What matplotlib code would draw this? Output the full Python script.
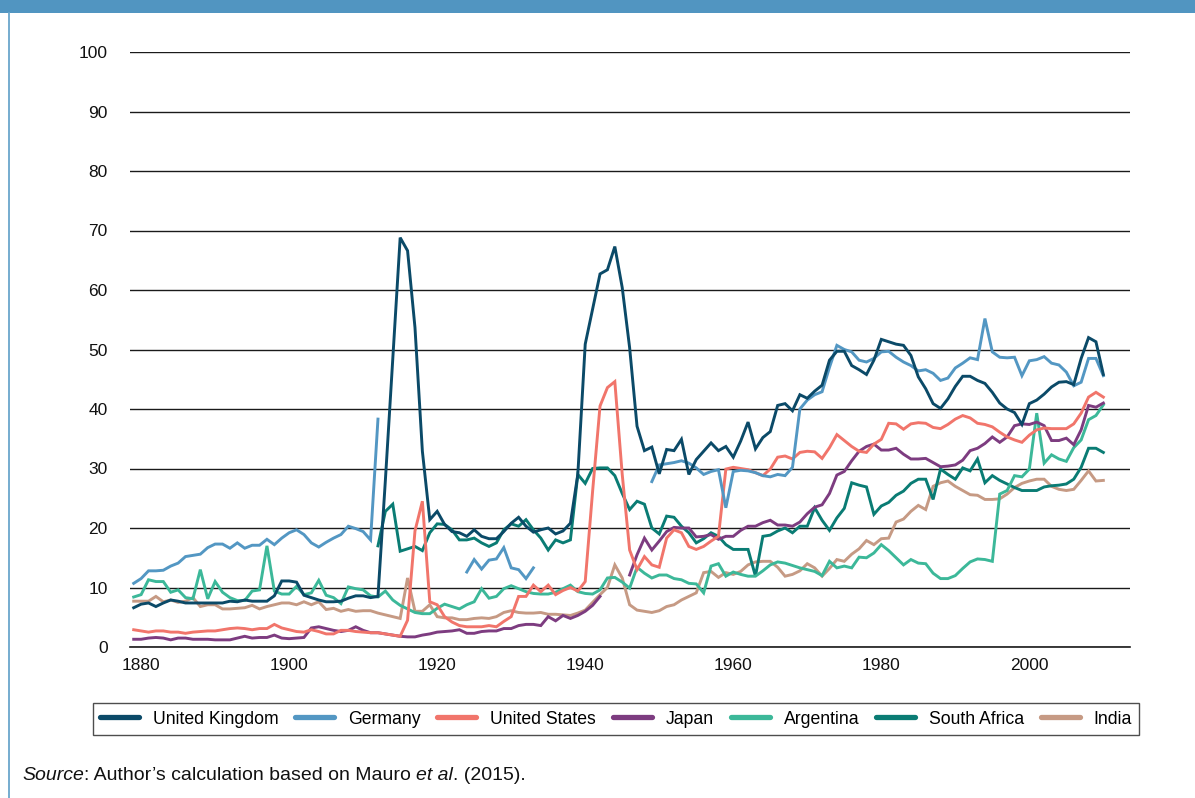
import matplotlib

matplotlib.use("Agg")
import matplotlib.pyplot as plt
import numpy as np
from matplotlib.lines import Line2D
from matplotlib.patches import Rectangle

nan = np.nan

# ---------------------------------------------------------------
# data: government expenditure, % of GDP, 1879-2010
# ---------------------------------------------------------------
years = np.arange(1879, 2011)

uk = [
    6.6,
    7.2, 7.4, 6.8, 7.4, 7.9, 7.7, 7.4, 7.4, 7.4, 7.4,
    7.4, 7.4, 7.7, 7.6, 7.9, 7.7, 7.7, 7.7, 8.6, 11.1,
    11.1, 10.9, 8.7, 8.3, 7.9, 7.6, 7.6, 7.7, 8.2, 8.6,
    8.6, 8.3, 8.5, 28.0, 48.5, 68.8, 66.6, 53.7, 32.9, 21.4,
    22.8, 20.6, 19.4, 19.2, 18.6, 19.7, 18.6, 18.2, 18.2, 19.4,
    20.8, 21.8, 20.3, 19.3, 19.7, 20.0, 19.0, 19.5, 20.8, 29.0,
    50.9, 56.8, 62.7, 63.4, 67.3, 60.4, 50.3, 37.1, 33.0, 33.6,
    29.1, 33.2, 33.0, 34.9, 29.0, 31.5, 32.9, 34.3, 33.0, 33.7,
    31.9, 34.6, 37.8, 33.3, 35.2, 36.2, 40.6, 40.9, 39.7, 42.4,
    41.8, 43.0, 44.0, 48.2, 49.7, 49.7, 47.3, 46.6, 45.8, 48.2,
    51.7, 51.3, 50.9, 50.7, 49.0, 45.4, 43.4, 40.9, 40.1, 41.7,
    43.8, 45.5, 45.5, 44.8, 44.3, 42.8, 41.0, 40.0, 39.4, 37.4,
    40.9, 41.5, 42.5, 43.7, 44.5, 44.6, 44.1, 48.5, 52.0, 51.3, 45.8,
]

germany = [
    10.7,
    11.5, 12.8, 12.8, 12.9, 13.6, 14.1, 15.2, 15.4, 15.6, 16.7,
    17.3, 17.3, 16.6, 17.5, 16.6, 17.1, 17.1, 18.1, 17.2, 18.3,
    19.2, 19.7, 18.9, 17.5, 16.8, 17.6, 18.3, 18.9, 20.3, 19.9,
    19.4, 18.0, 38.3, nan, nan, nan, nan, nan, nan, nan,
    nan, nan, nan, nan, 12.6, 14.7, 13.1, 14.6, 14.8, 16.7,
    13.3, 13.0, 11.5, 13.3, nan, nan, nan, nan, nan, nan,
    nan, nan, nan, nan, nan, nan, nan, nan, nan, 27.8,
    30.6, 30.8, 31.0, 31.3, 30.9, 30.1, 29.0, 29.5, 29.8, 23.4,
    29.5, 29.7, 29.6, 29.3, 28.8, 28.6, 29.0, 28.8, 30.2, 40.0,
    41.5, 42.4, 42.9, 47.0, 50.7, 50.0, 49.6, 48.2, 47.9, 48.5,
    49.6, 49.7, 48.7, 47.9, 47.3, 46.4, 46.6, 46.0, 44.8, 45.2,
    46.9, 47.7, 48.6, 48.3, 55.2, 49.6, 48.7, 48.6, 48.7, 45.6,
    48.1, 48.3, 48.8, 47.7, 47.4, 46.2, 43.9, 44.5, 48.5, 48.5, 45.6,
]

usa = [
    2.9,
    2.7, 2.5, 2.7, 2.7, 2.5, 2.5, 2.3, 2.5, 2.6, 2.7,
    2.7, 2.9, 3.1, 3.2, 3.1, 2.9, 3.1, 3.1, 3.8, 3.2,
    2.9, 2.6, 2.5, 2.9, 2.6, 2.2, 2.2, 2.8, 2.8, 2.6,
    2.5, 2.4, 2.4, 2.2, 2.0, 1.8, 4.5, 19.5, 24.5, 7.6,
    7.1, 5.1, 4.2, 3.6, 3.4, 3.4, 3.4, 3.6, 3.4, 4.3,
    5.1, 8.5, 8.5, 10.4, 9.3, 10.4, 8.8, 9.5, 10.0, 9.4,
    11.0, 26.2, 40.5, 43.6, 44.6, 29.0, 16.3, 13.0, 15.2, 13.8,
    13.4, 18.3, 19.7, 19.2, 16.9, 16.4, 16.9, 17.8, 18.6, 29.9,
    30.2, 30.0, 29.8, 29.3, 28.8, 29.9, 31.9, 32.1, 31.6, 32.7,
    32.9, 32.8, 31.7, 33.5, 35.7, 34.7, 33.7, 32.9, 32.7, 34.1,
    34.9, 37.6, 37.5, 36.6, 37.5, 37.7, 37.6, 36.9, 36.7, 37.4,
    38.3, 38.9, 38.5, 37.6, 37.4, 37.0, 36.1, 35.3, 34.8, 34.4,
    35.6, 36.5, 36.8, 36.7, 36.7, 36.7, 37.5, 39.3, 42.0, 42.8, 42.0,
]

japan = [
    1.3,
    1.3, 1.5, 1.6, 1.5, 1.2, 1.5, 1.5, 1.3, 1.3, 1.3,
    1.2, 1.2, 1.2, 1.5, 1.8, 1.5, 1.6, 1.6, 2.0, 1.5,
    1.4, 1.5, 1.6, 3.2, 3.4, 3.1, 2.8, 2.6, 2.8, 3.4,
    2.8, 2.4, 2.4, 2.2, 2.0, 1.8, 1.7, 1.7, 2.0, 2.2,
    2.5, 2.6, 2.7, 2.9, 2.3, 2.3, 2.6, 2.7, 2.7, 3.1,
    3.1, 3.6, 3.8, 3.8, 3.6, 5.1, 4.4, 5.3, 4.8, 5.3,
    6.0, 7.0, 8.5, nan, nan, nan, 12.1, 15.5, 18.3, 16.3,
    17.8, 19.4, 20.1, 20.0, 20.0, 18.5, 18.6, 18.9, 18.1, 18.6,
    18.6, 19.6, 20.3, 20.3, 20.9, 21.3, 20.5, 20.5, 20.3, 21.0,
    22.4, 23.5, 23.9, 25.8, 28.9, 29.5, 31.3, 32.9, 33.7, 34.1,
    33.1, 33.1, 33.4, 32.4, 31.6, 31.6, 31.7, 31.0, 30.3, 30.4,
    30.6, 31.4, 33.0, 33.4, 34.2, 35.3, 34.4, 35.3, 37.2, 37.5,
    37.4, 37.8, 37.2, 34.7, 34.7, 35.1, 34.0, 36.5, 40.6, 40.3, 41.0,
]

argentina = [
    8.4,
    8.8, 11.3, 11.0, 11.0, 9.2, 9.6, 8.3, 8.1, 13.0, 8.1,
    11.0, 9.2, 8.3, 7.8, 7.8, 9.4, 9.6, 17.0, 9.4, 8.9,
    8.9, 10.2, 8.8, 9.1, 11.2, 8.7, 8.3, 7.3, 10.1, 9.8,
    9.6, 8.6, 8.4, 9.4, 7.9, 7.0, 6.4, 5.8, 5.6, 5.6,
    6.5, 7.2, 6.8, 6.4, 7.1, 7.6, 9.8, 8.2, 8.5, 9.8,
    10.3, 9.8, 9.3, 9.0, 8.9, 8.9, 9.2, 9.8, 10.4, 9.3,
    9.0, 8.9, 9.6, 11.6, 11.7, 10.9, 9.9, 13.4, 12.4, 11.6,
    12.1, 12.1, 11.5, 11.3, 10.7, 10.6, 9.1, 13.6, 14.0, 11.9,
    12.6, 12.2, 11.9, 11.9, 12.8, 13.8, 14.3, 14.1, 13.7, 13.3,
    13.0, 12.7, 12.0, 14.4, 13.3, 13.6, 13.3, 15.1, 15.0, 15.8,
    17.2, 16.2, 15.0, 13.8, 14.7, 14.1, 14.0, 12.4, 11.5, 11.5,
    12.0, 13.2, 14.3, 14.8, 14.7, 14.4, 25.7, 26.3, 28.8, 28.6,
    29.9, 39.3, 30.9, 32.3, 31.6, 31.2, 33.5, 34.8, 38.2, 38.9, 40.7,
]

south_africa = [
    nan,
    nan, nan, nan, nan, nan, nan, nan, nan, nan, nan,
    nan, nan, nan, nan, nan, nan, nan, nan, nan, nan,
    nan, nan, nan, nan, nan, nan, nan, nan, nan, nan,
    nan, nan, 17.0, 22.8, 24.0, 16.1, 16.5, 16.9, 16.2, 19.2,
    20.7, 20.6, 19.7, 18.0, 18.0, 18.3, 17.5, 16.9, 17.5, 19.7,
    20.7, 20.3, 21.4, 19.7, 18.3, 16.3, 18.0, 17.5, 18.0, 29.0,
    27.5, 30.0, 30.1, 30.1, 28.8, 25.8, 23.1, 24.5, 24.0, 20.0,
    19.0, 22.0, 21.8, 20.3, 19.2, 17.5, 18.2, 19.2, 18.6, 17.2,
    16.4, 16.4, 16.4, 11.9, 18.6, 18.8, 19.5, 20.0, 19.2, 20.3,
    20.3, 23.4, 21.3, 19.6, 21.7, 23.3, 27.6, 27.2, 26.9, 22.3,
    23.7, 24.3, 25.5, 26.2, 27.5, 28.2, 28.2, 24.8, 29.9, 29.0,
    28.2, 30.1, 29.6, 31.6, 27.6, 28.8, 28.0, 27.4, 26.8, 26.3,
    26.3, 26.3, 26.9, 27.1, 27.2, 27.4, 28.2, 30.2, 33.4, 33.4, 32.7,
]

india = [
    7.7,
    7.7, 7.7, 8.5, 7.6, 7.9, 7.5, 7.7, 8.3, 6.8, 7.1,
    7.1, 6.4, 6.4, 6.5, 6.6, 7.0, 6.4, 6.8, 7.1, 7.4,
    7.4, 7.1, 7.6, 7.1, 7.6, 6.3, 6.5, 6.0, 6.3, 6.0,
    6.1, 6.1, 5.7, 5.4, 5.1, 4.8, 11.6, 6.0, 6.0, 7.1,
    5.1, 4.9, 4.9, 4.6, 4.6, 4.8, 4.9, 4.8, 5.1, 5.8,
    6.1, 5.8, 5.7, 5.7, 5.8, 5.5, 5.5, 5.4, 5.3, 5.7,
    6.2, 7.5, 8.8, 10.0, 13.8, 11.6, 7.1, 6.2, 6.0, 5.8,
    6.1, 6.8, 7.1, 7.9, 8.5, 9.1, 12.5, 12.7, 11.7, 12.5,
    12.2, 12.7, 13.8, 14.3, 14.4, 14.4, 13.4, 11.9, 12.2, 12.8,
    14.0, 13.3, 11.9, 13.2, 14.7, 14.4, 15.6, 16.5, 17.9, 17.2,
    18.2, 18.3, 21.0, 21.5, 22.8, 23.8, 23.1, 27.0, 27.6, 27.9,
    27.0, 26.3, 25.6, 25.5, 24.8, 24.8, 24.9, 25.7, 26.8, 27.5,
    27.9, 28.2, 28.2, 27.0, 26.5, 26.3, 26.5, 28.0, 29.6, 27.9, 28.0,
]

names = ["United Kingdom", "Germany", "United States", "Japan", "Argentina", "South Africa", "India"]
series = [uk, germany, usa, japan, argentina, south_africa, india]
colors = ["#0b4a68", "#5397c3", "#f1756b", "#7d3c80", "#3cb899", "#0a7c74", "#c69a84"]

x_ticks = [1880, 1900, 1920, 1940, 1960, 1980, 2000]
y_ticks = list(range(0, 101, 10))

# ---------------------------------------------------------------
# figure
# ---------------------------------------------------------------
plt.rcParams["font.family"] = ["Liberation Sans", "DejaVu Sans"]

W, H = 1195, 798
fig = plt.figure(figsize=(W / 100, H / 100), dpi=100)
fig.patch.set_facecolor("white")

# blue frame (top band + thin left rule)
fig.add_artist(Rectangle((0, 1 - 13 / H), 1, 13 / H, transform=fig.transFigure,
                         facecolor="#5195c1", edgecolor="none"))
fig.add_artist(Line2D([8.5 / W, 8.5 / W], [0, 1 - 13 / H], transform=fig.transFigure,
                      color="#6aa6cc", lw=1.3))

ax = fig.add_axes([130 / W, 1 - 647 / H, 1000 / W, 595 / H])

for vals, color in reversed(list(zip(series, colors))):
    ax.plot(years, vals, color=color, lw=2.1, solid_joinstyle="miter")

ax.set_xlim(1878.5, 2013.6)
ax.set_ylim(0, 100)
ax.set_xticks(x_ticks)
ax.set_yticks(y_ticks)
ax.tick_params(axis="both", length=0, labelsize=12.5, colors="#111111")
ax.tick_params(axis="y", pad=16)
ax.tick_params(axis="x", pad=8)

ax.yaxis.grid(True, color="#1a1a1a", lw=1.0)
ax.set_axisbelow(True)
for side in ["top", "right", "left"]:
    ax.spines[side].set_visible(False)
ax.spines["bottom"].set_color("#1a1a1a")
ax.spines["bottom"].set_linewidth(1.2)

# legend
handles = [Line2D([], [], color=c, lw=3.8, solid_capstyle="round") for c in colors]
leg = fig.legend(handles, names, loc="center", bbox_to_anchor=(616 / W, 1 - 719 / H), ncol=7,
                 fontsize=12.7, frameon=True, fancybox=False, handlelength=2.2, handletextpad=0.8,
                 columnspacing=0.95, borderpad=0.4)
leg.get_frame().set_edgecolor("#222222")
leg.get_frame().set_linewidth(1.0)

# source line with italic pieces
fig.canvas.draw()
renderer = fig.canvas.get_renderer()
parts = [("Source", "italic"), (": Author\u2019s calculation based on Mauro ", "normal"),
         ("et al", "italic"), (". (2015).", "normal")]
xpos = 22 / W
for txt, st in parts:
    t = fig.text(xpos, 1 - 775 / H, txt, style=st, fontsize=14, va="center", ha="left", color="#111111")
    xpos += t.get_window_extent(renderer).width / fig.bbox.width

fig.savefig("out.png", dpi=100)
